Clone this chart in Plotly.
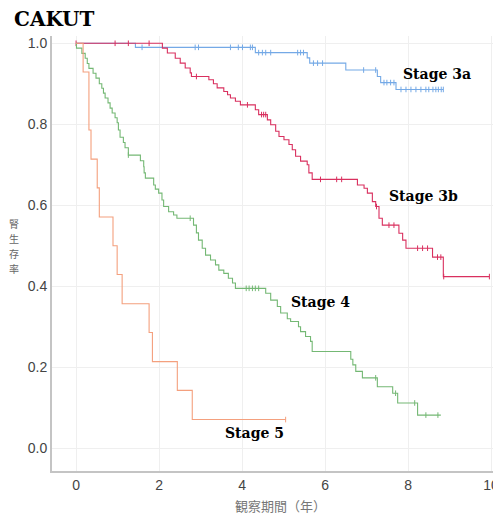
import plotly.graph_objects as go

# ---------------- data ----------------
# Stage 3a
s3a_t = [0.0, 1.43, 4.32, 5.57, 5.63, 6.50, 7.26, 7.34, 7.71, 8.85]
s3a_s = [1.0, 0.990, 0.977, 0.964, 0.951, 0.934, 0.918, 0.903, 0.886, 0.886]
s3a_c = [1.59, 2.87, 2.95, 3.72, 3.91, 4.01, 4.20, 4.25, 4.40, 4.49, 4.57, 4.69,
         5.34, 5.41, 5.48, 5.72, 5.82, 5.94, 6.93, 7.22, 7.42, 7.49, 7.58, 7.66,
         7.83, 7.95, 8.07, 8.19, 8.31, 8.43, 8.50, 8.60, 8.67, 8.73, 8.80, 8.85]

# Stage 3b
s3b_t = [0.0, 2.08, 2.20, 2.39, 2.51, 2.63, 2.75, 2.78, 3.20, 3.31, 3.40, 3.56,
         3.65, 3.72, 3.84, 3.96, 4.32, 4.40, 4.61, 4.69, 4.81, 4.89, 5.01, 5.13,
         5.21, 5.29, 5.41, 5.57, 5.61, 5.69, 6.78, 6.94, 7.02, 7.14, 7.22, 7.30,
         7.38, 7.78, 7.87, 7.95, 8.59, 8.85, 9.96]
s3b_s = [1.0, 0.988, 0.976, 0.963, 0.951, 0.939, 0.927, 0.918, 0.910, 0.900, 0.890, 0.881,
         0.873, 0.865, 0.857, 0.848, 0.836, 0.824, 0.811, 0.799, 0.783, 0.770, 0.762, 0.750,
         0.737, 0.721, 0.709, 0.700, 0.680, 0.664, 0.650, 0.642, 0.630, 0.609, 0.597, 0.568,
         0.551, 0.531, 0.514, 0.494, 0.472, 0.424, 0.424]
s3b_c = [0.0, 0.94, 1.26, 1.76, 2.90, 4.13, 4.47, 4.52, 4.57, 5.89, 6.28, 6.40, 7.24,
         7.54, 7.66, 8.23, 8.35, 8.47, 8.71, 8.79, 8.86, 9.96]

# Stage 4
s4_t = [0.0, 0.01, 0.14, 0.22, 0.27, 0.31, 0.41, 0.48, 0.56, 0.62, 0.66, 0.70,
        0.77, 0.82, 0.87, 0.94, 0.99, 1.02, 1.06, 1.14, 1.18, 1.26, 1.55, 1.63,
        1.64, 1.67, 1.87, 1.91, 1.99, 2.07, 2.11, 2.23, 2.35, 2.43, 2.83, 2.90,
        2.95, 3.04, 3.12, 3.24, 3.36, 3.44, 3.56, 3.67, 3.77, 3.84, 4.57, 4.69,
        4.85, 4.93, 5.09, 5.17, 5.36, 5.41, 5.53, 5.65, 5.69, 6.62, 6.67, 6.74,
        6.90, 7.26, 7.63, 7.75, 8.23, 8.79]
s4_s = [1.0, 0.988, 0.975, 0.963, 0.950, 0.938, 0.926, 0.914, 0.900, 0.889, 0.877, 0.865,
        0.853, 0.840, 0.828, 0.816, 0.804, 0.786, 0.768, 0.755, 0.742, 0.724, 0.710, 0.695,
        0.680, 0.667, 0.650, 0.640, 0.630, 0.613, 0.597, 0.584, 0.576, 0.568, 0.551, 0.532,
        0.514, 0.494, 0.477, 0.465, 0.453, 0.440, 0.432, 0.420, 0.408, 0.395, 0.383, 0.366,
        0.350, 0.334, 0.320, 0.313, 0.300, 0.288, 0.276, 0.264, 0.239, 0.220, 0.206, 0.190,
        0.174, 0.152, 0.136, 0.112, 0.082, 0.082]
s4_c = [1.26, 2.75, 4.10, 4.17, 4.25, 4.32, 4.40, 7.22, 7.70, 8.16, 8.43, 8.72]

# Stage 5
s5_t = [0.0, 0.17, 0.31, 0.36, 0.51, 0.56, 0.89, 0.99, 1.11, 1.76, 1.84, 2.44, 2.80, 5.05]
s5_s = [1.0, 0.929, 0.786, 0.714, 0.643, 0.571, 0.500, 0.429, 0.357, 0.286, 0.214, 0.143,
        0.071, 0.071]
s5_c = [5.05]

series = [
    ("Stage 3a", s3a_t, s3a_s, s3a_c, "#74a9e6"),
    ("Stage 3b", s3b_t, s3b_s, s3b_c, "#d9305f"),
    ("Stage 4", s4_t, s4_s, s4_c, "#74b874"),
    ("Stage 5", s5_t, s5_s, s5_c, "#f4a07e"),
]

labels = {"Stage 3a": (8.69, 0.924), "Stage 3b": (8.38, 0.623),
          "Stage 4": (5.89, 0.361), "Stage 5": (4.30, 0.038)}

x_ticks = [0, 2, 4, 6, 8, 10]
y_ticks = [0.0, 0.2, 0.4, 0.6, 0.8, 1.0]
y_title_chars = ["腎", "生", "存", "率"]


def surv_at(ts, ss, t):
    val = ss[0]
    for ti, si in zip(ts, ss):
        if ti <= t:
            val = si
        else:
            break
    return val


fig = go.Figure()
for name, ts, ss, cs, col in series:
    fig.add_trace(go.Scatter(x=ts, y=ss, mode="lines", line=dict(color=col, width=1.1, shape="hv"),
                             name=name, showlegend=False, hoverinfo="skip"))
    fig.add_trace(go.Scatter(x=cs, y=[surv_at(ts, ss, c) for c in cs], mode="markers",
                             marker=dict(symbol="line-ns-open", size=4, color=col,
                                         line=dict(color=col, width=1)),
                             showlegend=False, hoverinfo="skip"))

serif = "DejaVu Serif"
for name, (lx, ly) in labels.items():
    fig.add_annotation(x=lx, y=ly, text="<b>%s</b>" % name, showarrow=False,
                       xanchor="center", yanchor="middle",
                       font=dict(family=serif, size=14, color="#000"))

fig.add_annotation(xref="paper", yref="paper", x=-0.089, y=1.040, text="<b>CAKUT</b>",
                   showarrow=False, xanchor="left", yanchor="middle",
                   font=dict(family=serif, size=20, color="#000"))
# vertical (stacked) y-axis title, one character per annotation
step = 0.0345
top = 0.517 + 1.5 * step
for i, ch in enumerate(y_title_chars):
    fig.add_annotation(xref="paper", yref="paper", x=-0.084, y=top - i * step, text=ch,
                       showarrow=False, xanchor="center", yanchor="middle",
                       font=dict(family="Noto Sans CJK JP", size=10, color="#666"))
fig.add_annotation(xref="paper", yref="paper", x=0.508, y=-0.080, text="観察期間（年）",
                   showarrow=False, xanchor="center", yanchor="middle",
                   font=dict(family="Noto Sans CJK JP", size=13, color="#777"))

# the page body adds an 8px offset, so the figure is sized to fit the window
fig.update_layout(
    width=493, height=511,
    margin=dict(l=44, r=0, t=28, b=48),
    paper_bgcolor="white", plot_bgcolor="white",
    font=dict(family="Liberation Sans", size=14, color="#444"),
)
fig.update_xaxes(range=[-0.58, 10.24], tickvals=x_ticks, ticktext=[str(v) for v in x_ticks],
                 showgrid=True, gridcolor="#efefef", gridwidth=1, zeroline=False,
                 showline=True, linecolor="#c4c4c4", linewidth=2, ticks="", automargin=False,
                 tickfont=dict(size=14, color="#444"))
fig.update_yaxes(range=[-0.056, 1.018], tickvals=y_ticks, ticktext=["%.1f" % v for v in y_ticks],
                 showgrid=True, gridcolor="#efefef", gridwidth=1, zeroline=False,
                 showline=True, linecolor="#c4c4c4", linewidth=2, ticks="", automargin=False,
                 tickfont=dict(size=14, color="#444"))

fig.write_html("out.html")
